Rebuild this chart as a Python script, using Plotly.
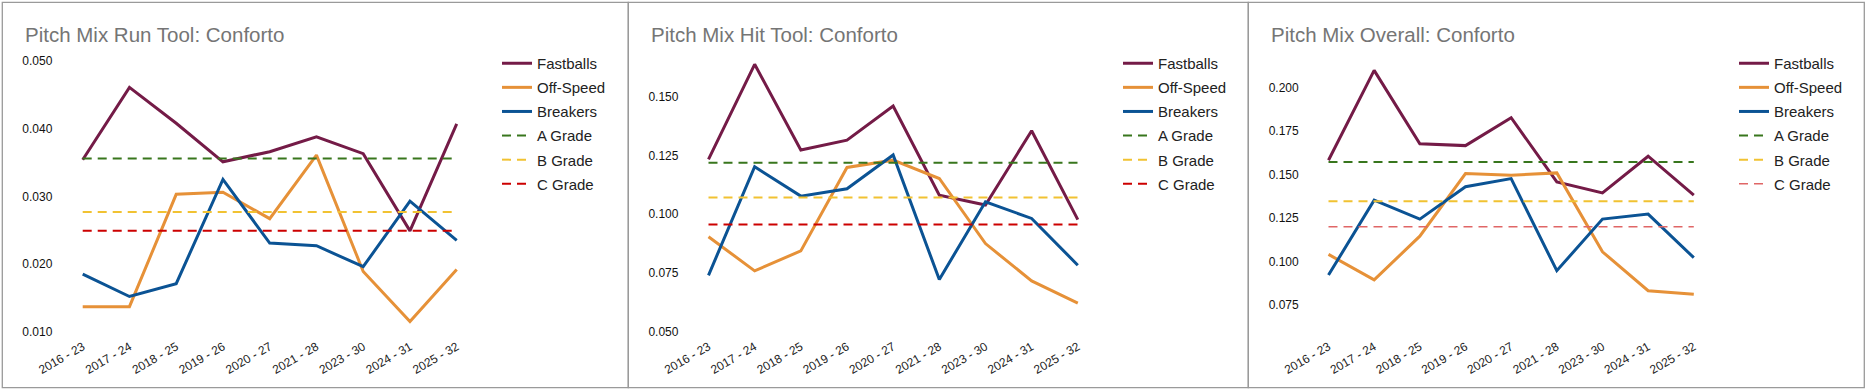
import plotly.graph_objects as go

W, H = 1866, 390

categories = ["2016 - 23", "2017 - 24", "2018 - 25", "2019 - 26", "2020 - 27",
              "2021 - 28", "2023 - 30", "2024 - 31", "2025 - 32"]

titles = ["Pitch Mix Run Tool: Conforto", "Pitch Mix Hit Tool: Conforto", "Pitch Mix Overall: Conforto"]

# Run tool
run_fastballs = [0.0354, 0.0461, 0.0408, 0.0351, 0.0366, 0.0388, 0.0363, 0.0249, 0.0407]
run_offspeed = [0.0137, 0.0137, 0.0303, 0.0306, 0.0267, 0.0361, 0.0189, 0.0115, 0.0192]
run_breakers = [0.0185, 0.0152, 0.0171, 0.0325, 0.0231, 0.0227, 0.0196, 0.0293, 0.0235]
run_grades = [0.0356, 0.0277, 0.0249]

# Hit tool
hit_fastballs = [0.1233, 0.1638, 0.1273, 0.1315, 0.1460, 0.1081, 0.1039, 0.1355, 0.0977]
hit_offspeed = [0.0904, 0.0759, 0.0844, 0.1199, 0.1230, 0.1152, 0.0875, 0.0716, 0.0622]
hit_breakers = [0.0740, 0.1202, 0.1077, 0.1108, 0.1252, 0.0722, 0.1053, 0.0982, 0.0783]
hit_grades = [0.1219, 0.1071, 0.0956]

# Overall
ovr_fastballs = [0.1583, 0.2100, 0.1678, 0.1667, 0.1828, 0.1458, 0.1395, 0.1606, 0.1382]
ovr_offspeed = [0.1041, 0.0894, 0.1146, 0.1506, 0.1497, 0.1510, 0.1056, 0.0832, 0.0811]
ovr_breakers = [0.0922, 0.1353, 0.1244, 0.1430, 0.1477, 0.0947, 0.1244, 0.1273, 0.1022]
ovr_grades = [0.1573, 0.1347, 0.1200]

run_ticks = [0.010, 0.020, 0.030, 0.040, 0.050]
hit_ticks = [0.050, 0.075, 0.100, 0.125, 0.150]
ovr_ticks = [0.075, 0.100, 0.125, 0.150, 0.175, 0.200]

series_names = ["Fastballs", "Off-Speed", "Breakers"]
grade_names = ["A Grade", "B Grade", "C Grade"]
series_colors = ["#741b47", "#e69138", "#0b5394"]

panels = [
    dict(data=[run_fastballs, run_offspeed, run_breakers], grades=run_grades,
         ticks=run_ticks, yr=[0.010, 0.050],
         grade_colors=["#38761d", "#f1c232", "#cc0000"], grade_widths=[2, 2, 2],
         box=(2.3, 628.3), first=82.7, last=456.7, leg=497),
    dict(data=[hit_fastballs, hit_offspeed, hit_breakers], grades=hit_grades,
         ticks=hit_ticks, yr=[0.050, 0.1652],
         grade_colors=["#38761d", "#f1c232", "#cc0000"], grade_widths=[2, 2, 2],
         box=(628.3, 1248.3), first=708.5, last=1077.8, leg=1118),
    dict(data=[ovr_fastballs, ovr_offspeed, ovr_breakers], grades=ovr_grades,
         ticks=ovr_ticks, yr=[0.0596, 0.2154],
         grade_colors=["#38761d", "#f1c232", "#e06666"], grade_widths=[2, 2, 1.5],
         box=(1248.3, 1864.3), first=1328.5, last=1693.8, leg=1734),
]

FONT = "Arial, Liberation Sans, sans-serif"
fig = go.Figure()
layout = dict(width=W, height=H, margin=dict(l=0, r=0, t=0, b=0, pad=0, autoexpand=False),
              paper_bgcolor="white", plot_bgcolor="white", showlegend=True,
              shapes=[], annotations=[])

ytop_px, ybot_px = 61.0, 331.7
ydom = [1 - ybot_px / H, 1 - ytop_px / H]

for i, p in enumerate(panels):
    k = "" if i == 0 else str(i + 1)
    xa, ya = "x" + k, "y" + k
    leg = "legend" + k
    sp = (p["last"] - p["first"]) / 8
    L, R = p["first"] - sp / 2, p["last"] + sp / 2
    for name, vals, col in zip(series_names, p["data"], series_colors):
        fig.add_trace(go.Scatter(x=categories, y=vals, name=name, mode="lines",
                                 line=dict(color=col, width=3),
                                 xaxis=xa, yaxis=ya, legend=leg, legendgroup=name + k,
                                 hoverinfo="skip"))
    for name, g, col, w in zip(grade_names, p["grades"], p["grade_colors"], p["grade_widths"]):
        fig.add_trace(go.Scatter(x=categories, y=[g] * len(categories), name=name, mode="lines",
                                 line=dict(color=col, width=w, dash="9px,6px"),
                                 xaxis=xa, yaxis=ya, legend=leg, legendgroup=name + k,
                                 hoverinfo="skip"))
    layout["xaxis" + k] = dict(domain=[L / W, R / W], anchor=ya, type="category",
                               range=[-0.5, 8.5], showgrid=False, zeroline=False,
                               showline=False, ticks="", tickangle=-30, automargin=False,
                               ticklabelstandoff=5,
                               tickfont=dict(family=FONT, size=12, color="#222222"),
                               fixedrange=True)
    layout["yaxis" + k] = dict(domain=ydom, anchor=xa, range=p["yr"], tickvals=p["ticks"],
                               tickformat=".3f", showgrid=False, zeroline=False,
                               showline=False, ticks="", ticklabelstandoff=6, automargin=False,
                               tickfont=dict(family=FONT, size=12, color="#111111"),
                               fixedrange=True)
    layout[leg] = dict(x=p["leg"] / W, xanchor="left", y=1 - 47 / H, yanchor="top",
                       font=dict(family=FONT, size=15, color="#222222"),
                       tracegroupgap=1.6, bgcolor="rgba(0,0,0,0)", borderwidth=0,
                       itemclick=False, itemdoubleclick=False)
    x0, x1 = p["box"]
    layout["shapes"].append(dict(type="rect", xref="paper", yref="paper",
                                 x0=x0 / W, x1=x1 / W, y0=1 - 387.7 / H, y1=1 - 2.3 / H,
                                 line=dict(color="#9a9a9a", width=1.3), fillcolor="rgba(0,0,0,0)"))
    layout["annotations"].append(dict(text=titles[i], xref="paper", yref="paper",
                                      x=(x0 + 20.7) / W, y=1 - 34 / H, xanchor="left",
                                      yanchor="middle", showarrow=False,
                                      font=dict(family=FONT, size=20.5, color="#757575")))

fig.update_layout(**layout)
fig.write_html("out.html", config={"displayModeBar": False},
               post_script="document.body.style.margin='0';document.body.style.overflow='hidden';")
